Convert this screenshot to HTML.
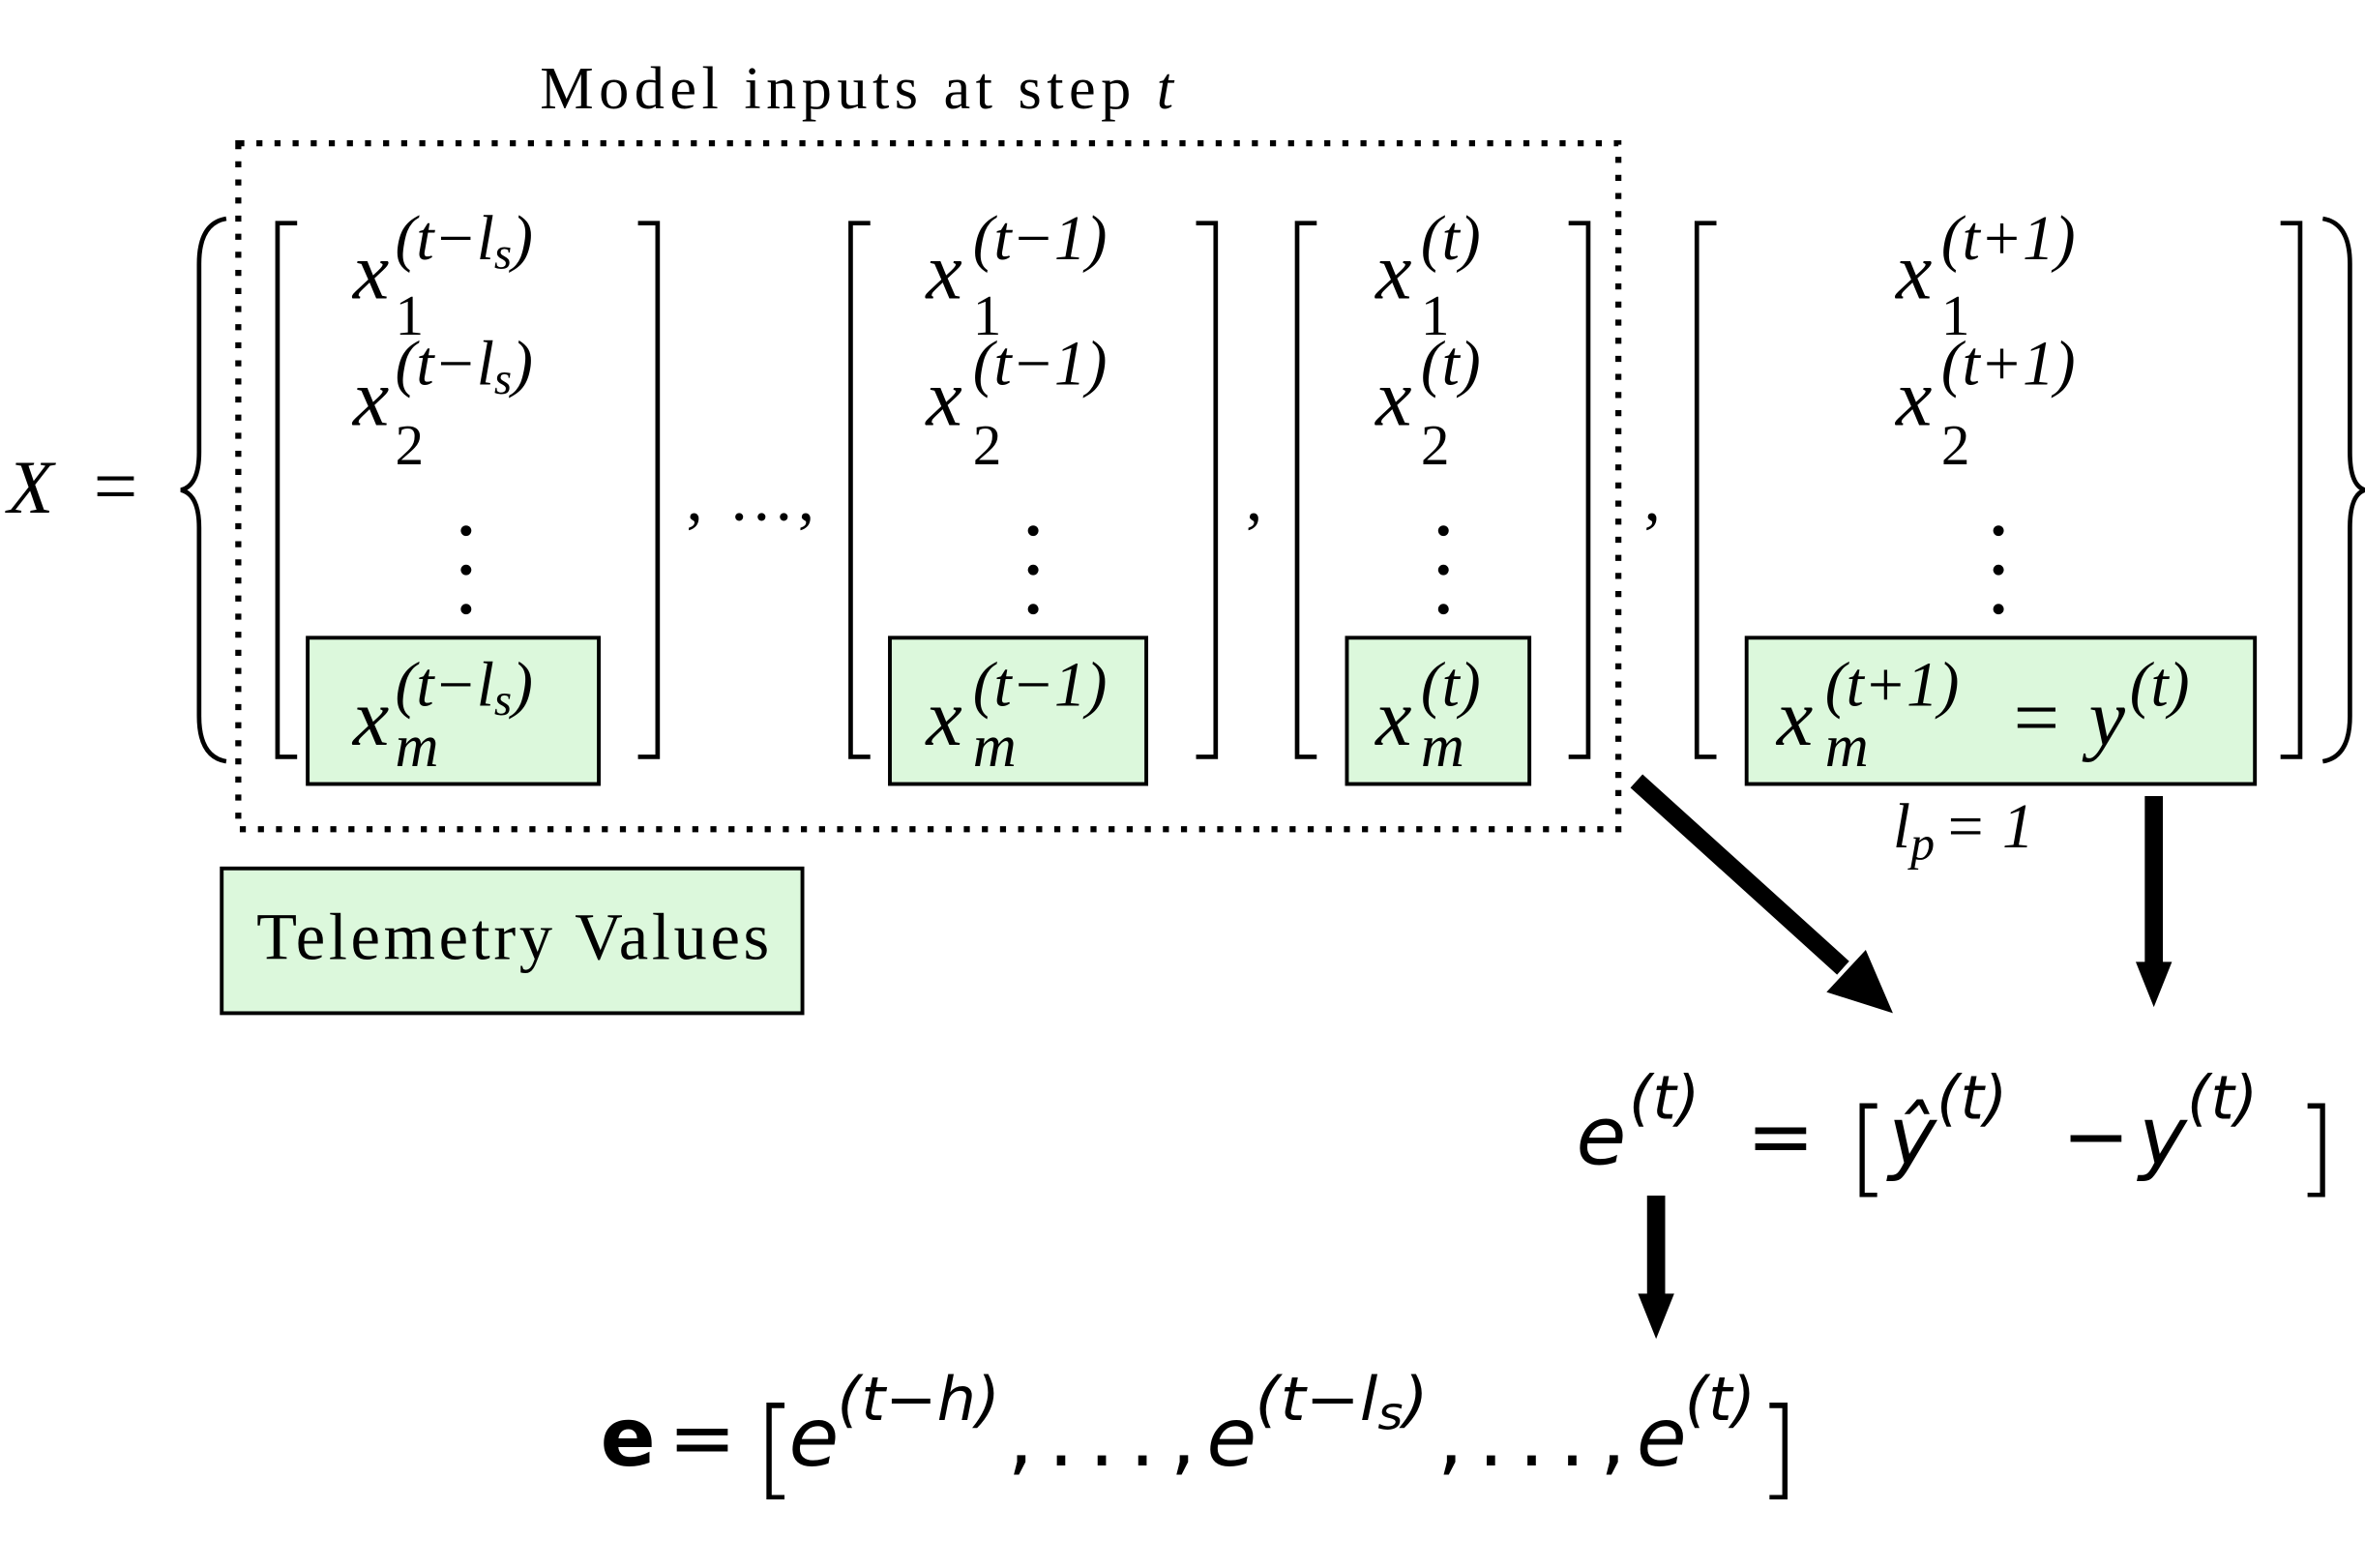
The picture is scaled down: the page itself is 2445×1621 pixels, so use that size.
<!DOCTYPE html>
<html><head><meta charset="utf-8"><style>
html,body{margin:0;padding:0;background:#fff;}
svg{display:block;}
.s{font-family:"Liberation Serif",serif;}
.i{font-family:"Liberation Serif",serif;font-style:italic;}
.d{font-family:"DejaVu Sans",sans-serif;font-style:italic;}
.m{font-family:"Liberation Serif",serif;font-style:italic;}
</style></head><body>
<svg width="2445" height="1621" viewBox="0 0 1568 1040" preserveAspectRatio="none" xmlns="http://www.w3.org/2000/svg">
<text x="358" y="72" class="s" font-size="40" textLength="420" lengthAdjust="spacing">Model inputs at step <tspan class="i">t</tspan></text>
<rect x="158" y="95" width="915" height="455" fill="none" stroke="#000" stroke-width="4" stroke-dasharray="4 8"/>
<text x="5" y="340" class="i" font-size="50">X</text><text x="62" y="340" class="s" font-size="52">=</text>
<path d="M150,145 Q132,148 132,175 L132,300 Q132,322 120,325 Q132,328 132,350 L132,475 Q132,502 150,505" fill="none" stroke="#000" stroke-width="3"/>
<path d="M1540,145 Q1558,148 1558,175 L1558,300 Q1558,322 1568,325 Q1558,328 1558,350 L1558,475 Q1558,502 1540,505" fill="none" stroke="#000" stroke-width="3"/>
<g fill="none" stroke="#000" stroke-width="3">
<path d="M197,148 H184 V502 H197"/><path d="M423,148 H436 V502 H423"/>
<path d="M577,148 H564 V502 H577"/><path d="M793,148 H806 V502 H793"/>
<path d="M873,148 H860 V502 H873"/><path d="M1040,148 H1053 V502 H1040"/>
<path d="M1138,148 H1125 V502 H1138"/><path d="M1512,148 H1525 V502 H1512"/>
</g>
<text x="455" y="345" class="s" font-size="44" textLength="85" lengthAdjust="spacing">, ...,</text>
<text x="826" y="345" class="s" font-size="44">,</text>
<text x="1090" y="345" class="s" font-size="44">,</text>
<g fill="#dcf8dc" stroke="#000" stroke-width="2.5">
<rect x="204" y="423" width="193" height="97"/><rect x="590" y="423" width="170" height="97"/>
<rect x="893" y="423" width="121" height="97"/><rect x="1158" y="423" width="337" height="97"/>
<rect x="147" y="576" width="385" height="96"/>
</g>
<text x="170" y="636" class="s" font-size="44" textLength="340" lengthAdjust="spacing">Telemetry Values</text>
<g class="m" font-size="54">
<text x="234" y="198">x</text><text x="262" y="172" font-size="42">(t−l<tspan font-size="30" dy="6">s</tspan><tspan dy="-6">)</tspan></text><text x="262" y="222" font-size="38" font-style="normal">1</text>
<text x="234" y="282">x</text><text x="262" y="255" font-size="42">(t−l<tspan font-size="30" dy="6">s</tspan><tspan dy="-6">)</tspan></text><text x="262" y="308" font-size="38" font-style="normal">2</text>
<text x="234" y="494">x</text><text x="262" y="468" font-size="42">(t−l<tspan font-size="30" dy="6">s</tspan><tspan dy="-6">)</tspan></text><text x="262" y="508" font-size="40">m</text>
<text x="614" y="198">x</text><text x="645" y="172" font-size="42">(t−1)</text><text x="645" y="222" font-size="38" font-style="normal">1</text>
<text x="614" y="282">x</text><text x="645" y="255" font-size="42">(t−1)</text><text x="645" y="308" font-size="38" font-style="normal">2</text>
<text x="614" y="494">x</text><text x="645" y="468" font-size="42">(t−1)</text><text x="645" y="508" font-size="40">m</text>
<text x="912" y="198">x</text><text x="942" y="172" font-size="42">(t)</text><text x="942" y="222" font-size="38" font-style="normal">1</text>
<text x="912" y="282">x</text><text x="942" y="255" font-size="42">(t)</text><text x="942" y="308" font-size="38" font-style="normal">2</text>
<text x="912" y="494">x</text><text x="942" y="468" font-size="42">(t)</text><text x="942" y="508" font-size="40">m</text>
<text x="1257" y="198">x</text><text x="1287" y="172" font-size="42">(t+1)</text><text x="1287" y="222" font-size="38" font-style="normal">1</text>
<text x="1257" y="282">x</text><text x="1287" y="255" font-size="42">(t+1)</text><text x="1287" y="308" font-size="38" font-style="normal">2</text>
<text x="1178" y="494">x</text><text x="1210" y="468" font-size="42">(t+1)</text><text x="1210" y="508" font-size="40">m</text>
<text x="1335" y="494" font-style="normal">=</text><text x="1385" y="494">y</text><text x="1412" y="468" font-size="42">(t)</text>
</g>
<g fill="#000">
<circle cx="309" cy="352" r="3.5"/><circle cx="309" cy="378" r="3.5"/><circle cx="309" cy="404" r="3.5"/>
<circle cx="685" cy="352" r="3.5"/><circle cx="685" cy="378" r="3.5"/><circle cx="685" cy="404" r="3.5"/>
<circle cx="957" cy="352" r="3.5"/><circle cx="957" cy="378" r="3.5"/><circle cx="957" cy="404" r="3.5"/>
<circle cx="1325" cy="352" r="3.5"/><circle cx="1325" cy="378" r="3.5"/><circle cx="1325" cy="404" r="3.5"/>
</g>
<text x="1255" y="562" class="i" font-size="42">l<tspan font-size="32" dy="8">p</tspan><tspan dy="-8" dx="6">=  1</tspan></text>
<g stroke="#000" stroke-width="12" fill="none">
<line x1="1085" y1="518" x2="1222" y2="642"/>
<line x1="1428" y1="528" x2="1428" y2="640"/>
<line x1="1098" y1="793" x2="1098" y2="860"/>
</g>
<g fill="#000">
<polygon points="1255,672 1211,658 1237,630"/>
<polygon points="1428,668 1416,638 1440,638"/>
<polygon points="1098,888 1086,858 1110,858"/>
</g>
<g class="d" font-size="54">
<text x="1045" y="772">e</text><text x="1080" y="742" font-size="40">(t)</text>
<text x="1158" y="772" font-style="normal">=</text>
<text x="1225" y="785" font-style="normal" font-size="70" font-weight="100">[</text>
<text x="1252" y="772">ŷ</text><text x="1284" y="742" font-size="40">(t)</text>
<text x="1367" y="772" font-style="normal">−</text>
<text x="1418" y="772">y</text><text x="1450" y="742" font-size="40">(t)</text>
<text x="1522" y="785" font-style="normal" font-size="70" font-weight="100">]</text>
</g>
<g class="d" font-size="54">
<text x="398" y="972" font-style="normal" font-weight="bold">e</text>
<text x="443" y="972" font-style="normal">=</text>
<text x="500" y="985" font-style="normal" font-size="72" font-weight="100">[</text>
<text x="523" y="972">e</text><text x="555" y="942" font-size="40" textLength="108" lengthAdjust="spacingAndGlyphs">(t−h)</text>
<text x="668" y="972" font-style="normal" textLength="125" lengthAdjust="spacing">, . . . ,</text>
<text x="800" y="972">e</text><text x="832" y="942" font-size="40" textLength="115" lengthAdjust="spacingAndGlyphs">(t−l<tspan font-size="30" dy="6">s</tspan><tspan dy="-6">)</tspan></text>
<text x="953" y="972" font-style="normal" textLength="125" lengthAdjust="spacing">, . . . ,</text>
<text x="1085" y="972">e</text><text x="1117" y="942" font-size="40">(t)</text>
<text x="1165" y="985" font-style="normal" font-size="72" font-weight="100">]</text>
</g>
</svg>
</body></html>
